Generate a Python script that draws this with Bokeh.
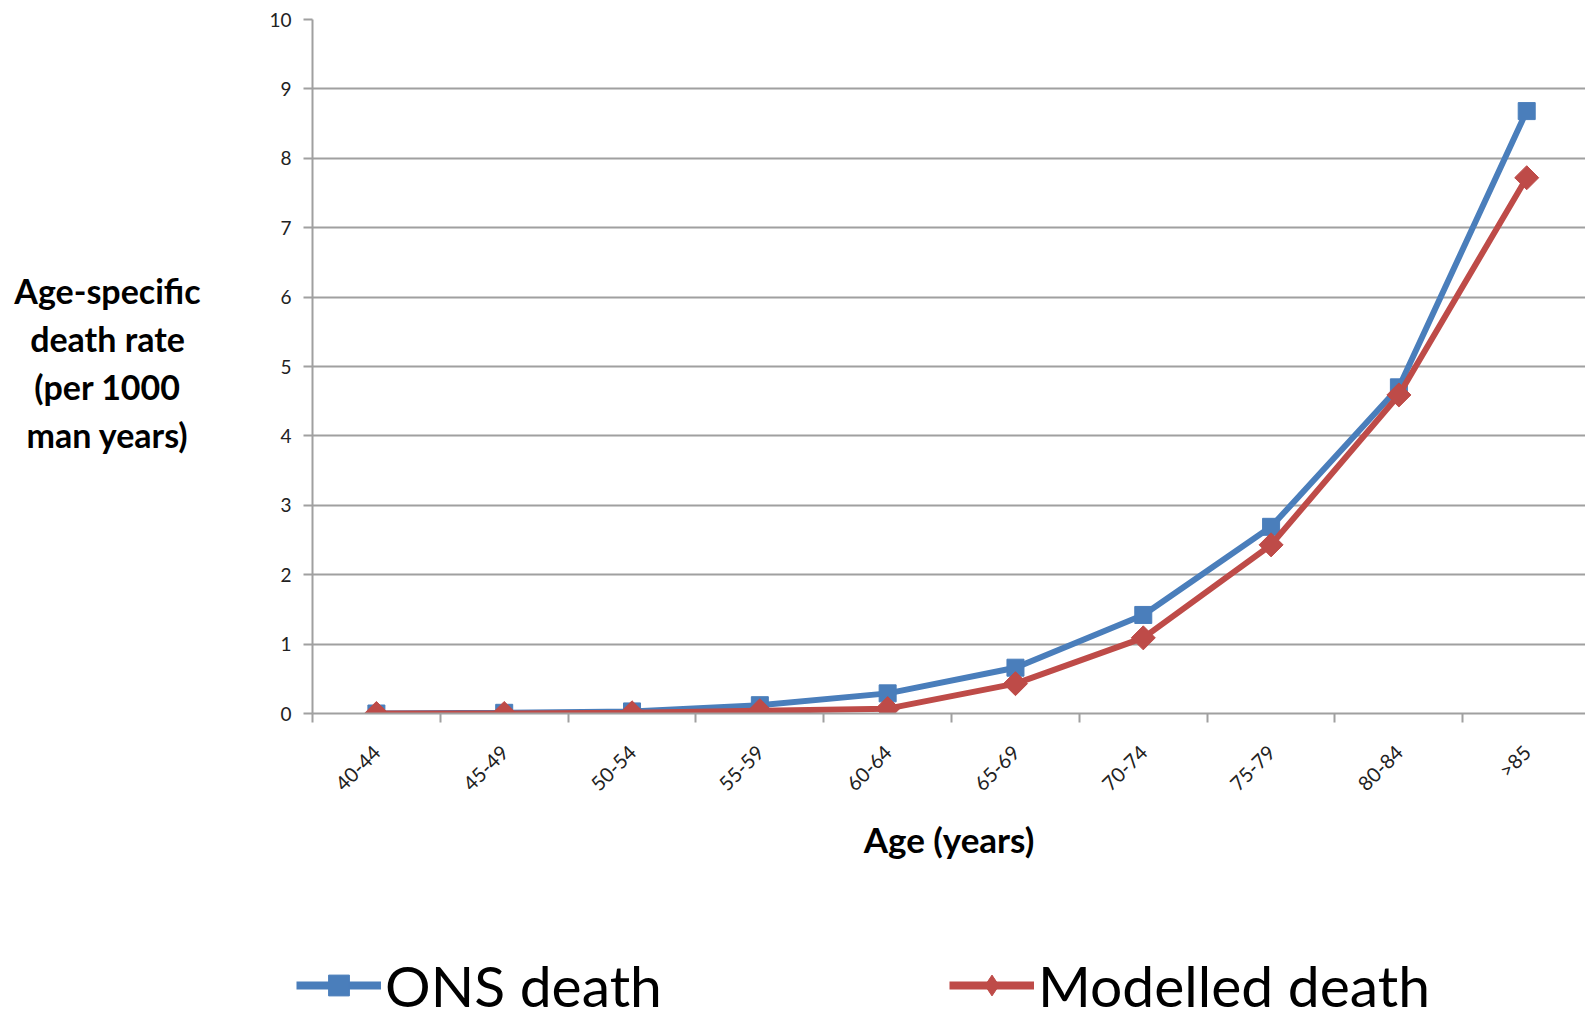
import math
from bokeh.plotting import figure
from bokeh.models import FixedTicker, Legend, LegendItem, Range1d, Label
from bokeh.layouts import row, column
from bokeh.embed import file_html
from bokeh.resources import INLINE

categories = ["40-44", "45-49", "50-54", "55-59", "60-64", "65-69", "70-74", "75-79", "80-84", ">85"]
ons_death = [0.0, 0.01, 0.03, 0.12, 0.29, 0.66, 1.42, 2.69, 4.70, 8.68]
modelled_death = [0.0, 0.0, 0.01, 0.04, 0.07, 0.43, 1.09, 2.43, 4.59, 7.72]
y_ticks = list(range(0, 11))
y_title = "Age-specific\ndeath rate\n(per 1000\nman years)"
x_title = "Age (years)"
series_names = ["ONS death", "Modelled death"]

xs = list(range(len(categories)))

font = "Lato"
grey = "#a0a0a0"
blue = "#4a7ebb"
red = "#be4b48"
LEFT_W = 215

# ---- main chart ----
p = figure(width=1585 - LEFT_W, height=955, output_backend="svg", toolbar_location=None,
           x_range=Range1d(-0.5, 9.46), y_range=Range1d(0, 10),
           min_border_left=312 - LEFT_W, min_border_top=19, min_border_right=0, min_border_bottom=242)
p.outline_line_color = None

p.line(xs, ons_death, line_color=blue, line_width=6)
p.scatter(xs, ons_death, marker="square", size=17, fill_color=blue, line_color=blue)
p.line(xs, modelled_death, line_color=red, line_width=6)
p.scatter(xs, modelled_death, marker="square", angle=math.pi / 4, size=17,
          fill_color=red, line_color=red)

p.xaxis.ticker = FixedTicker(ticks=xs, minor_ticks=[i - 0.5 for i in range(len(categories) + 1)])
p.xaxis.major_label_overrides = {i: c for i, c in enumerate(categories)}
p.xaxis.major_label_orientation = math.pi / 4
p.xaxis.major_tick_line_color = None
p.xaxis.minor_tick_line_color = grey
p.xaxis.minor_tick_line_width = 2
p.xaxis.minor_tick_out = 9
p.xaxis.minor_tick_in = 0
p.xaxis.axis_line_color = grey
p.xaxis.axis_line_width = 2
p.xaxis.major_label_text_font = font
p.xaxis.major_label_text_font_size = "20px"
p.xaxis.major_label_text_color = "#222222"
p.xaxis.major_label_standoff = 26
p.xaxis.axis_label = x_title
p.xaxis.axis_label_text_font = font
p.xaxis.axis_label_text_font_size = "35px"
p.xaxis.axis_label_text_font_style = "bold"
p.xaxis.axis_label_text_color = "black"
p.xaxis.axis_label_standoff = 11
p.xgrid.grid_line_color = None

p.yaxis.ticker = FixedTicker(ticks=y_ticks)
p.yaxis.minor_tick_line_color = None
p.yaxis.major_tick_line_color = grey
p.yaxis.major_tick_line_width = 2
p.yaxis.major_tick_out = 9
p.yaxis.major_tick_in = 0
p.yaxis.axis_line_color = grey
p.yaxis.axis_line_width = 2
p.yaxis.major_label_text_font = font
p.yaxis.major_label_text_font_size = "19px"
p.yaxis.major_label_text_color = "#222222"
p.yaxis.major_label_standoff = 12
p.ygrid.grid_line_color = grey
p.ygrid.grid_line_width = 2

# ---- left panel with the y-axis title ----
pl = figure(width=LEFT_W, height=1015, output_backend="svg", toolbar_location=None,
            x_range=Range1d(0, LEFT_W), y_range=Range1d(0, 1015),
            min_border_left=0, min_border_right=0, min_border_top=0, min_border_bottom=0)
pl.axis.visible = False
pl.grid.visible = False
pl.outline_line_color = None
pl.frame_align = False
pl.add_layout(Label(x=107, y=653, text=y_title, text_font=font, text_font_size="34px",
                    text_font_style="bold", text_color="black", text_align="center",
                    text_baseline="middle", text_line_height=1.165))

# ---- legend strip ----
pg = figure(width=1585 - LEFT_W, height=60, output_backend="svg", toolbar_location=None,
            x_range=Range1d(-100, -99), y_range=Range1d(-100, -99),
            min_border_left=0, min_border_right=0, min_border_top=0, min_border_bottom=0)
pg.axis.visible = False
pg.grid.visible = False
pg.outline_line_color = None
pg.frame_align = False
gl1 = pg.line(xs[:1], ons_death[:1], line_color=blue, line_width=8)
gm1 = pg.scatter(xs[:1], ons_death[:1], marker="square", size=17, fill_color=blue, line_color=blue)
gl2 = pg.line(xs[:1], modelled_death[:1], line_color=red, line_width=8)
gm2 = pg.scatter(xs[:1], modelled_death[:1], marker="diamond", size=26,
                 fill_color=red, line_color=red)

legend = Legend(items=[LegendItem(label=series_names[0], renderers=[gl1, gm1]),
                       LegendItem(label=series_names[1], renderers=[gl2, gm2])],
                orientation="horizontal")
legend.label_text_font = font
legend.label_text_font_size = "57px"
legend.label_text_color = "black"
legend.glyph_width = 85
legend.glyph_height = 52
legend.spacing = 287
legend.label_standoff = 4
legend.border_line_color = None
legend.background_fill_alpha = 0
legend.margin = 0
legend.padding = 0
legend.location = (296 - LEFT_W, -4)
pg.add_layout(legend, "center")

layout = row(pl, column(p, pg))
open("out.html", "w").write(file_html(layout, INLINE))
